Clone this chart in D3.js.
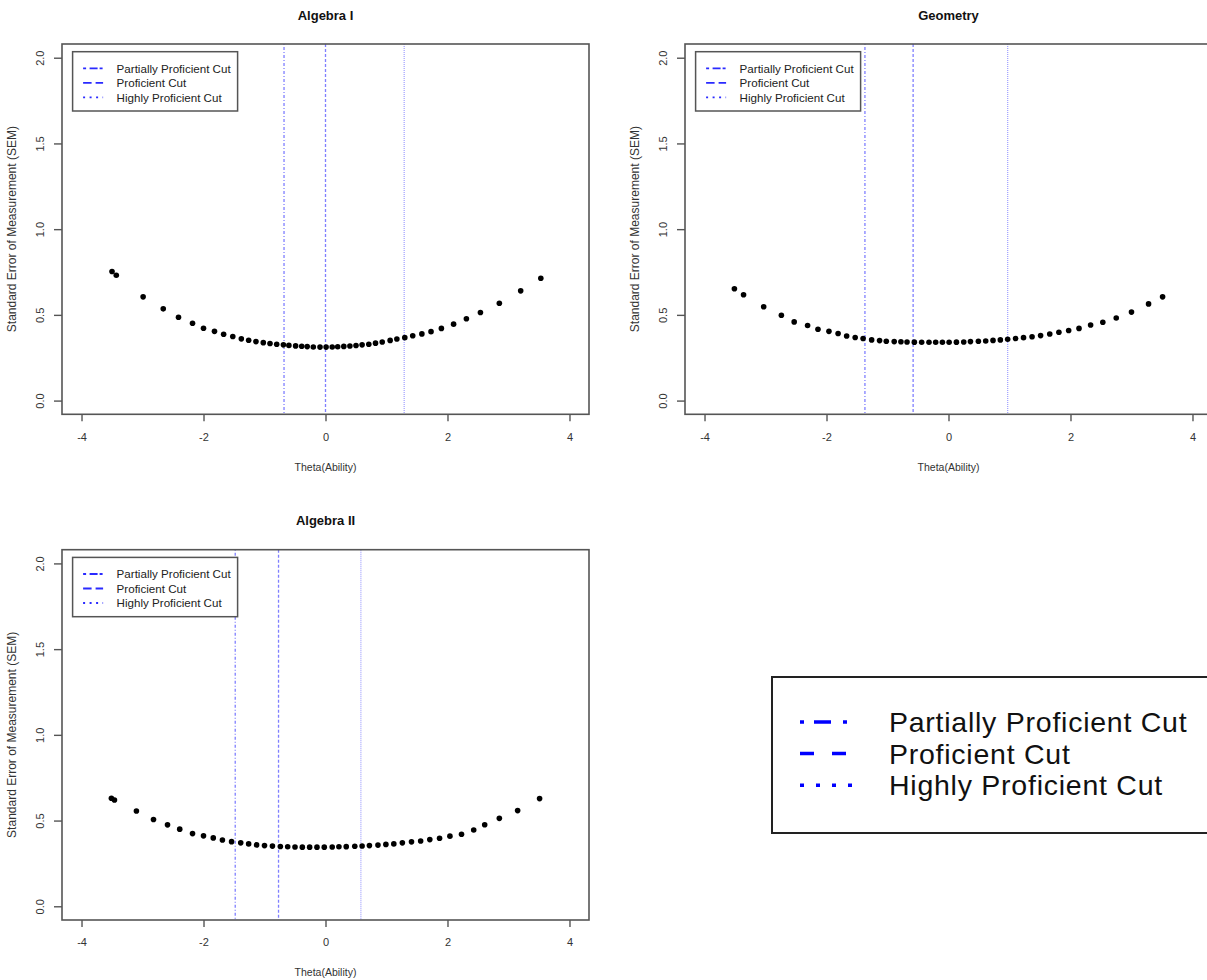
<!DOCTYPE html>
<html><head><meta charset="utf-8">
<script src="https://cdn.jsdelivr.net/npm/d3@7"></script>
<style>body{margin:0;background:#fff;} svg{display:block;font-family:"Liberation Sans",Arial,sans-serif;}</style>
</head><body><svg id="c" width="1207" height="980"></svg>
<script>
// ---- data ----
const panelTitles = ["Algebra I", "Geometry", "Algebra II"];
const cutNames = ["Partially Proficient Cut", "Proficient Cut", "Highly Proficient Cut"];
const xTicks = [-4, -2, 0, 2, 4];
const yTicks = [0, 0.5, 1, 1.5, 2];
const yTickLabels = ["0.0", "0.5", "1.0", "1.5", "2.0"];
const xLabel = "Theta(Ability)";
const yLabel = "Standard Error of Measurement (SEM)";

const alg1Theta = [-3.50,-3.43,-2.99,-2.66,-2.41,-2.18,-2.00,-1.82,-1.67,-1.52,-1.38,-1.26,-1.14,-1.02,-0.91,-0.80,-0.69,-0.60,-0.49,-0.39,-0.30,-0.20,-0.09,0.01,0.11,0.20,0.30,0.40,0.50,0.60,0.71,0.82,0.93,1.06,1.17,1.30,1.43,1.58,1.73,1.90,2.10,2.31,2.54,2.85,3.20,3.53];
const alg1Sem = [0.753,0.731,0.605,0.535,0.486,0.451,0.422,0.404,0.387,0.374,0.360,0.352,0.344,0.338,0.333,0.329,0.325,0.322,0.319,0.317,0.315,0.313,0.312,0.312,0.313,0.314,0.316,0.318,0.321,0.325,0.329,0.335,0.342,0.351,0.359,0.367,0.378,0.389,0.402,0.421,0.446,0.477,0.514,0.568,0.640,0.714];
const alg1Cuts = [-0.68, 0.0, 1.29];

const geoTheta = [-3.51,-3.36,-3.03,-2.74,-2.53,-2.31,-2.14,-1.96,-1.81,-1.67,-1.53,-1.40,-1.26,-1.13,-1.02,-0.89,-0.78,-0.68,-0.56,-0.44,-0.32,-0.21,-0.10,0.01,0.13,0.25,0.36,0.49,0.61,0.73,0.85,0.97,1.10,1.23,1.37,1.51,1.66,1.81,1.97,2.14,2.33,2.53,2.75,3.00,3.28,3.51];
const geoSem = [0.652,0.617,0.547,0.498,0.459,0.438,0.416,0.404,0.391,0.377,0.368,0.362,0.354,0.350,0.346,0.344,0.343,0.342,0.341,0.340,0.340,0.340,0.340,0.340,0.341,0.342,0.344,0.346,0.348,0.351,0.354,0.358,0.362,0.367,0.372,0.379,0.388,0.399,0.409,0.421,0.441,0.457,0.482,0.516,0.564,0.605];
const geoCuts = [-1.37, -0.58, 0.97];

const alg2Theta = [-3.51,-3.46,-3.10,-2.82,-2.59,-2.39,-2.18,-2.00,-1.84,-1.69,-1.54,-1.39,-1.26,-1.13,-1.00,-0.87,-0.74,-0.62,-0.50,-0.38,-0.26,-0.14,-0.02,0.11,0.22,0.34,0.48,0.60,0.72,0.86,0.99,1.12,1.26,1.41,1.56,1.71,1.87,2.04,2.23,2.43,2.61,2.85,3.15,3.51];
const alg2Sem = [0.630,0.620,0.556,0.506,0.475,0.450,0.424,0.411,0.399,0.387,0.377,0.370,0.364,0.358,0.354,0.351,0.349,0.347,0.346,0.345,0.345,0.345,0.345,0.346,0.347,0.348,0.350,0.352,0.354,0.357,0.361,0.364,0.370,0.376,0.381,0.389,0.397,0.409,0.420,0.445,0.476,0.513,0.558,0.628];
const alg2Cuts = [-1.48, -0.77, 0.58];

// ---- styles ----
const plotDash = ["1,2,3,2", "3,2", "1,1"];
const smallLegDash = ["3,3.5,8,2", "8.5,4", "2,4.5"];
const bigLegDash = ["4,10,17,12,4,10", "14,18", "4,12"];

const svg = d3.select("#c");

const panels = [
  {title: panelTitles[0], th: alg1Theta, se: alg1Sem, cuts: alg1Cuts, dx: 0, dy: 0},
  {title: panelTitles[1], th: geoTheta, se: geoSem, cuts: geoCuts, dx: 623, dy: 0},
  {title: panelTitles[2], th: alg2Theta, se: alg2Sem, cuts: alg2Cuts, dx: 0, dy: 505.7}
];

panels.forEach(p => {
  const g = svg.append("g").attr("transform", `translate(${p.dx},${p.dy})`);
  const L = {left: 62, right: 589, top: 44, bottom: 414.3};
  const x = d3.scaleLinear().domain([-4.32, 4.32]).range([L.left, L.right]);
  const y = d3.scaleLinear().domain([-0.08, 2.08]).range([L.bottom, L.top]);

  // cut lines
  g.selectAll("line.cut").data(p.cuts).join("line")
    .attr("class", "cut")
    .attr("x1", d => x(d)).attr("x2", d => x(d))
    .attr("y1", L.top).attr("y2", L.bottom)
    .attr("stroke", "#3a3aff").attr("stroke-opacity", (d, i) => i === 2 ? 0.45 : 0.65)
    .attr("stroke-width", 1.3)
    .attr("stroke-dasharray", (d, i) => plotDash[i]);

  // points
  g.selectAll("circle").data(p.th.map((t, i) => [t, p.se[i]])).join("circle")
    .attr("cx", d => x(d[0])).attr("cy", d => y(d[1])).attr("r", 2.8)
    .attr("fill", "#000");

  // box
  g.append("rect").attr("x", L.left).attr("y", L.top)
    .attr("width", L.right - L.left).attr("height", L.bottom - L.top)
    .attr("fill", "none").attr("stroke", "#555").attr("stroke-width", 1.6);

  // x axis
  const xa = g.append("g").attr("transform", `translate(0,${L.bottom})`)
    .call(d3.axisBottom(x).tickValues(xTicks).tickSize(7).tickFormat(d => String(d)));
  xa.select(".domain").remove();
  xa.selectAll(".tick line").attr("stroke", "#555").attr("stroke-width", 1.4);
  xa.selectAll(".tick text").attr("y", 22.5).attr("dy", "0.35em")
    .attr("font-size", 11).attr("fill", "#333").attr("font-family", "Liberation Sans, Arial, sans-serif");

  // y axis
  const ya = g.append("g").attr("transform", `translate(${L.left},0)`)
    .call(d3.axisLeft(y).tickValues(yTicks).tickSize(8).tickFormat((d, i) => yTickLabels[i]));
  ya.select(".domain").remove();
  ya.selectAll(".tick line").attr("stroke", "#555").attr("stroke-width", 1.4);
  ya.selectAll(".tick text").attr("x", null).attr("dy", null)
    .attr("transform", "translate(-22,0) rotate(-90)")
    .attr("text-anchor", "middle").attr("dominant-baseline", "central")
    .attr("font-size", 11).attr("fill", "#333").attr("font-family", "Liberation Sans, Arial, sans-serif");

  // labels
  g.append("text").attr("x", (L.left + L.right) / 2).attr("y", 15)
    .attr("text-anchor", "middle").attr("dominant-baseline", "central")
    .attr("font-size", 13).attr("font-weight", "bold").attr("fill", "#111").text(p.title);
  g.append("text").attr("x", (L.left + L.right) / 2).attr("y", 466.5)
    .attr("text-anchor", "middle").attr("dominant-baseline", "central")
    .attr("font-size", 10.5).attr("fill", "#333").text(xLabel);
  g.append("text").attr("transform", `translate(11.5,${(L.top + L.bottom) / 2}) rotate(-90)`)
    .attr("text-anchor", "middle").attr("dominant-baseline", "central")
    .attr("font-size", 12).attr("fill", "#333").text(yLabel);

  // small legend
  const lg = g.append("g").attr("transform", `translate(${L.left + 10.6},${L.top + 7.7})`);
  lg.append("rect").attr("width", 165).attr("height", 59.3)
    .attr("fill", "#fff").attr("stroke", "#555").attr("stroke-width", 1.5);
  cutNames.forEach((n, i) => {
    const yy = 16.6 + i * 14.5;
    lg.append("line").attr("x1", 10.5).attr("x2", 30.5).attr("y1", yy).attr("y2", yy)
      .attr("stroke", "#2a2aff").attr("stroke-width", 1.8).attr("stroke-dasharray", smallLegDash[i]);
    lg.append("text").attr("x", 44).attr("y", yy).attr("dominant-baseline", "central")
      .attr("font-size", 11.6).attr("fill", "#222").text(n);
  });
});

// big legend
const bl = svg.append("g").attr("transform", "translate(772,677)");
bl.append("rect").attr("width", 460).attr("height", 156)
  .attr("fill", "#fff").attr("stroke", "#222").attr("stroke-width", 2);
cutNames.forEach((n, i) => {
  const yy = 45 + i * 31.6;
  bl.append("line").attr("x1", 28).attr("x2", 80).attr("y1", yy).attr("y2", yy)
    .attr("stroke", "#0000ff").attr("stroke-width", 3.5).attr("stroke-dasharray", bigLegDash[i]);
  bl.append("text").attr("x", 117).attr("y", yy).attr("dominant-baseline", "central")
    .attr("font-size", 28.5).attr("letter-spacing", "0.75px").attr("fill", "#111").text(n);
});
</script>
</body></html>
